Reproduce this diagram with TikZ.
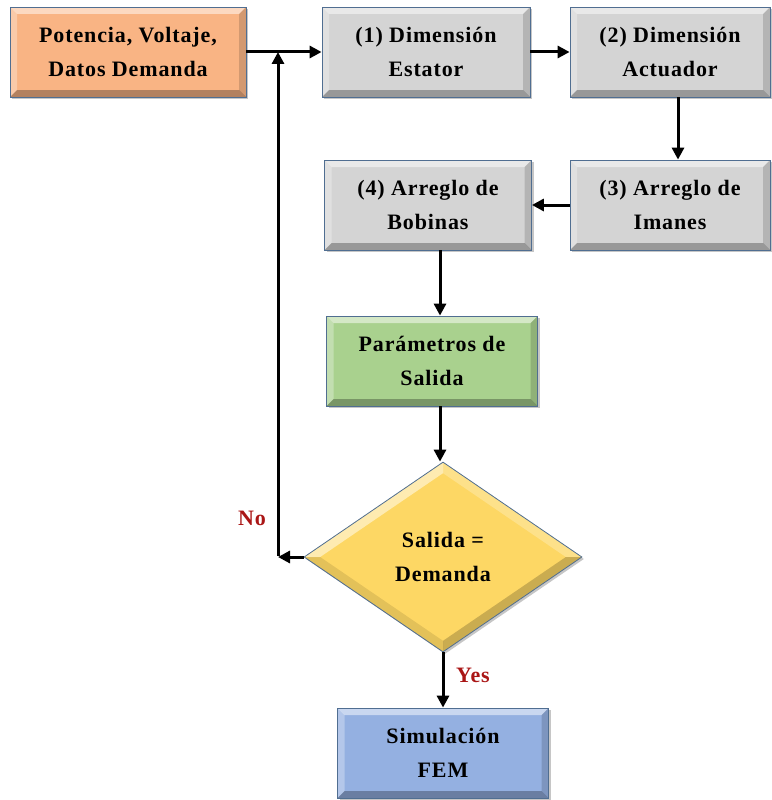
\documentclass[tikz,border=0pt]{standalone}
\usepackage{fontspec}
\setmainfont{Liberation Serif}[LetterSpace=4]
\usetikzlibrary{shapes.geometric,arrows.meta,shadows}
\definecolor{orangeF}{RGB}{249,180,132}
\definecolor{grayF}{RGB}{212,212,212}
\definecolor{greenF}{RGB}{169,209,142}
\definecolor{yellowF}{RGB}{253,215,100}
\definecolor{blueF}{RGB}{148,176,225}
\definecolor{edgeC}{RGB}{80,110,145}
\definecolor{labC}{RGB}{170,22,22}
\newcommand\bvRect{%
  \fill[white,opacity=0.5] (path picture bounding box.north west) -- (path picture bounding box.north east) -- ([shift={(-7pt,-7pt)}]path picture bounding box.north east) -- ([shift={(7pt,-7pt)}]path picture bounding box.north west) -- cycle;
  \fill[white,opacity=0.3] (path picture bounding box.north west) -- ([shift={(7pt,-7pt)}]path picture bounding box.north west) -- ([shift={(7pt,7pt)}]path picture bounding box.south west) -- (path picture bounding box.south west) -- cycle;
  \fill[black,opacity=0.15] (path picture bounding box.north east) -- ([shift={(-7pt,-7pt)}]path picture bounding box.north east) -- ([shift={(-7pt,7pt)}]path picture bounding box.south east) -- (path picture bounding box.south east) -- cycle;
  \fill[black,opacity=0.28] (path picture bounding box.south west) -- ([shift={(7pt,7pt)}]path picture bounding box.south west) -- ([shift={(-7pt,7pt)}]path picture bounding box.south east) -- (path picture bounding box.south east) -- cycle;}
\newcommand\bvDiam{%
  \fill[white,opacity=0.5] (path picture bounding box.west) -- (path picture bounding box.north) -- ([yshift=-11pt]path picture bounding box.north) -- ([xshift=16pt]path picture bounding box.west) -- cycle;
  \fill[white,opacity=0.25] (path picture bounding box.north) -- (path picture bounding box.east) -- ([xshift=-16pt]path picture bounding box.east) -- ([yshift=-11pt]path picture bounding box.north) -- cycle;
  \fill[black,opacity=0.2] (path picture bounding box.east) -- (path picture bounding box.south) -- ([yshift=11pt]path picture bounding box.south) -- ([xshift=-16pt]path picture bounding box.east) -- cycle;
  \fill[black,opacity=0.1] (path picture bounding box.south) -- (path picture bounding box.west) -- ([xshift=16pt]path picture bounding box.west) -- ([yshift=11pt]path picture bounding box.south) -- cycle;}
\tikzset{
  txt/.style={font=\bfseries\fontsize{22}{34}\selectfont, align=center},
  boxb/.style={txt, rectangle, draw=edgeC, line width=0.8pt, fill=#1, inner sep=0pt,
     minimum height=90pt, drop shadow={shadow xshift=2pt,shadow yshift=-2pt,opacity=0.45},
     path picture={\bvRect}},
  diamb/.style={txt, diamond, draw=edgeC, line width=0.8pt, fill=#1, inner sep=0pt,
     minimum width=278pt, minimum height=190pt, drop shadow={shadow xshift=2pt,shadow yshift=-2pt,opacity=0.45},
     path picture={\bvDiam}},
  arr/.style={line width=3pt, -{Triangle[length=12pt,width=12pt]}},
  lab/.style={font=\bfseries\fontsize{22}{24}\selectfont, text=labC}
}
\begin{document}
\begin{tikzpicture}[x=1pt,y=-1pt]
\useasboundingbox (0,0) rectangle (771,800);
\node[boxb=orangeF, minimum width=236pt] (A) at (128,52) {Potencia, Voltaje,\\Datos Demanda};
\node[boxb=grayF, minimum width=208pt] (s1) at (426,52) {(1) Dimensión\\Estator};
\node[boxb=grayF, minimum width=200pt] (s2) at (670,52) {(2) Dimensión\\Actuador};
\node[boxb=grayF, minimum width=200pt] (s3) at (670,205) {(3) Arreglo de\\Imanes};
\node[boxb=grayF, minimum width=207pt] (s4) at (428,205) {(4) Arreglo de\\Bobinas};
\node[boxb=greenF, minimum width=211pt] (out) at (432,361) {Parámetros de\\Salida};
\node[diamb=yellowF] (dec) at (443,557) {Salida =\\Demanda};
\node[boxb=blueF, minimum width=211pt] (sim) at (443,753) {Simulación\\FEM};
\coordinate (fb) at (278,557);
\draw[arr] (A.east) -- (s1.west);
\draw[arr] (s1.east) -- (s2.west);
\draw[arr] ([xshift=8pt]s2.south) -- ([xshift=8pt]s3.north);
\draw[arr] (s3.west) -- (s4.east);
\draw[arr] ([xshift=-3pt]s4.south -| dec.north) -- ([xshift=-3pt]out.north -| dec.north);
\draw[arr] ([xshift=-3pt]out.south -| dec.north) -- ([xshift=-3pt]dec.north);
\draw[arr] (dec.south) -- (sim.north);
\draw[arr] (dec.west) -- (fb);
\draw[arr] ([yshift=1.5pt]fb) -- (fb |- A.east);
\node[lab] (no) at (252,518) {No};
\node[lab] (yes) at (473,675) {Yes};
\end{tikzpicture}
\end{document}
